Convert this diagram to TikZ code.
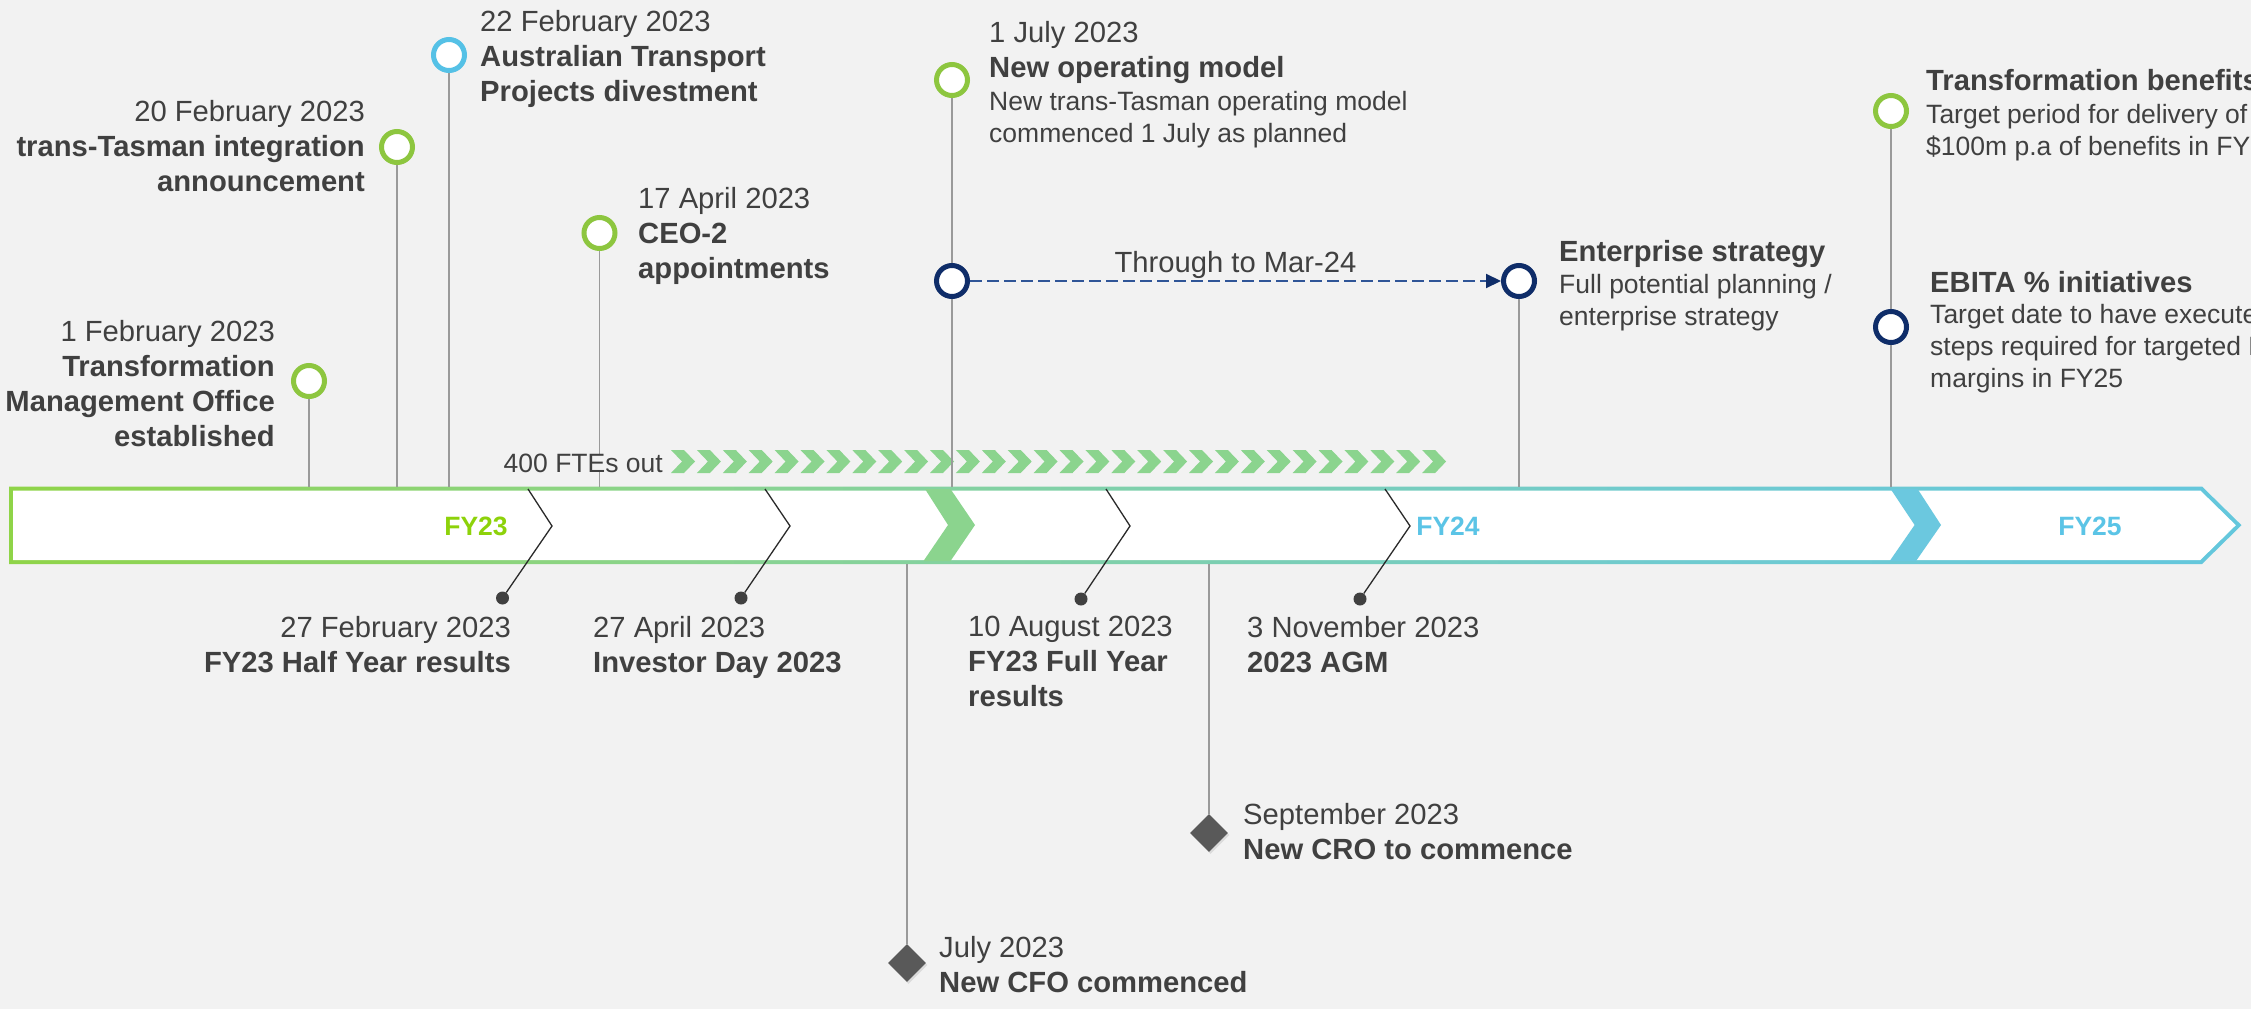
\documentclass[tikz,border=0pt]{standalone}
\usepackage{fontspec}
\setmainfont{Liberation Sans}
\usetikzlibrary{shapes.geometric,arrows.meta,shadows}
\definecolor{cBg}{HTML}{F2F2F2}
\definecolor{cText}{HTML}{404040}
\definecolor{cRing}{HTML}{8DC63F}
\definecolor{cSkyRing}{HTML}{55C1E6}
\definecolor{cNavy}{HTML}{0F2D69}
\definecolor{cDash}{HTML}{2F5597}
\definecolor{cLime}{HTML}{93D500}
\definecolor{cLimeB}{HTML}{90D43A}
\definecolor{cMint}{HTML}{8BD48E}
\definecolor{cTeal}{HTML}{70CBCF}
\definecolor{cSky}{HTML}{5BC4E6}
\definecolor{cBlueChev}{HTML}{6BC8DF}
\definecolor{cFY}{HTML}{8DD20A}
\definecolor{cLead}{HTML}{9A9A9A}
\definecolor{cChev}{HTML}{2A2A2A}
\definecolor{cGem}{HTML}{595959}
\pgfdeclarehorizontalshading{barshade}{100bp}{color(0bp)=(cLime); color(8bp)=(cLime); color(22bp)=(cLimeB); color(40bp)=(cMint); color(62bp)=(cTeal); color(84bp)=(cSky); color(100bp)=(cSky)}
\newcommand\fmain{\fontsize{29.2}{34.8}\selectfont}
\newcommand\fdesc{\fontsize{26.5}{32}\selectfont}
\newcommand\ffy{\fontsize{26.5}{30}\selectfont\bfseries}
\tikzset{
  lbl/.style={inner sep=0pt, text=cText, font=\fmain},
  desc/.style={inner sep=0pt, text=cText, font=\fdesc},
  fylbl/.style={inner sep=0pt, font=\ffy, anchor=base},
  ring/.style={circle, fill=white, line width=5pt, minimum size=31pt, inner sep=0pt,
    drop shadow={opacity=0.18, shadow xshift=1.5pt, shadow yshift=-2pt}},
  gring/.style={ring, draw=cRing},
  bring/.style={ring, draw=cSkyRing},
  nring/.style={ring, draw=cNavy},
  lead/.style={draw=cLead, line width=1.5pt},
  chevline/.style={draw=cChev, line width=1.3pt},
  pin/.style={circle, fill=cText, minimum size=13pt, inner sep=0pt},
  gem/.style={diamond, fill=cGem, minimum width=38pt, minimum height=38pt, inner sep=0pt,
    drop shadow={opacity=0.2, shadow xshift=1.5pt, shadow yshift=-2pt}},
  smallchev/.style={fill=cMint}
}
\begin{document}
\begin{tikzpicture}[x=1pt,y=-1pt]
\useasboundingbox (0,0) rectangle (2251,1009);
\fill[cBg] (0,0) rectangle (2251,1009);
\clip (0,0) rectangle (2251,1009);

% timeline bar
\shade[shading=barshade] (9,486.5) -- (2202,486.5) -- (2241.5,525.2) -- (2202,564) -- (9,564) -- cycle;
\fill[white] (13,490.5) -- (2200.3,490.5) -- (2235.8,525.2) -- (2200.3,560) -- (13,560) -- cycle;
\fill[cMint] (925,489) -- (950.5,489) -- (975,525) -- (950.5,561) -- (923.5,561) -- (948,525) -- cycle;
\fill[cBlueChev] (1890.6,489) -- (1917.6,489) -- (1941,525) -- (1916,561) -- (1889.7,561) -- (1914.6,525) -- cycle;

\node[fylbl, text=cFY] (fy23) at (476,535) {FY23};
\node[fylbl, text=cSky] (fy24) at (1448,535) {FY24};
\node[fylbl, text=cSky] (fy25) at (2090,535) {FY25};

% small chevrons (400 FTEs out)
\foreach \i in {0,...,29}
  \fill[smallchev] ({671+25.9*\i},450) -- ++(13,0) -- ++(11,11.5) -- ++(-11,11.5) -- ++(-13,0) -- ++(11,-11.5) -- cycle;

% bar attach points
\coordinate (b1feb) at (309,487);
\coordinate (b20feb) at (397,487);
\coordinate (b22feb) at (449,487);
\coordinate (b17apr) at (599.5,487);
\coordinate (b1jul) at (952,487);
\coordinate (bent) at (1519,487);
\coordinate (btrans) at (1891,487);
\coordinate (bcfo) at (907,564);
\coordinate (bcro) at (1209,564);
\coordinate (k1) at (528,489);  \coordinate (q1) at (552,526);
\coordinate (k2) at (765,489);  \coordinate (q2) at (790,526);
\coordinate (k3) at (1106,489); \coordinate (q3) at (1130,526);
\coordinate (k4) at (1385,489); \coordinate (q4) at (1410,526);

% milestone rings
\node[gring] (c1feb) at (309,381) {};
\node[gring] (c20feb) at (397,147) {};
\node[bring] (c22feb) at (449,55) {};
\node[gring] (c17apr) at (599.5,233) {};
\node[gring] (c1jul) at (952,80) {};
\node[nring] (cnavy) at (952,281) {};
\node[nring] (cent) at (1519,281) {};
\node[gring] (ctrans) at (1891,111) {};
\node[nring] (cebita) at (1891,327) {};

% bottom markers
\node[pin] (p1) at (502.5,598) {};
\node[pin] (p2) at (741,598) {};
\node[pin] (p3) at (1081,599) {};
\node[pin] (p4) at (1360,599) {};
\node[gem] (dcro) at (1209,833) {};
\node[gem] (dcfo) at (907,963) {};

% leader lines
\draw[lead] (c1feb) -- (b1feb);
\draw[lead] (c20feb) -- (b20feb);
\draw[lead] (c22feb) -- (b22feb);
\draw[lead] (c17apr) -- (b17apr);
\draw[lead] (c1jul) -- (cnavy);
\draw[lead] (cnavy) -- (b1jul);
\draw[lead] (cent) -- (bent);
\draw[lead] (ctrans) -- (cebita);
\draw[lead] (cebita) -- (btrans);
\draw[lead] (bcfo) -- (dcfo);
\draw[lead] (bcro) -- (dcro);
\draw[chevline] (k1) -- (q1) -- (p1);
\draw[chevline] (k2) -- (q2) -- (p2);
\draw[chevline] (k3) -- (q3) -- (p3);
\draw[chevline] (k4) -- (q4) -- (p4);

% dashed arrow
\draw[cDash, line width=2pt, dash pattern=on 12pt off 5pt, -{Triangle[length=15pt,width=14pt,fill=cNavy,color=cNavy]}]
  (cnavy) -- (cent) node[midway, anchor=base, yshift=9pt, lbl] (lthrough) {Through to Mar-24};

% labels above (anchor = baseline of last line)
\node[desc, anchor=base east, fill=cBg, inner xsep=2pt] (tfte) at (665,472) {400 FTEs out};
\node[lbl, anchor=base west, align=left] (t22feb) at (480,101) {22 February 2023\\\textbf{Australian Transport}\\\textbf{Projects divestment}};
\node[lbl, anchor=base east, align=right] (t20feb) at (365,191) {20 February 2023\\\textbf{trans-Tasman integration}\\\textbf{announcement}};
\node[lbl, anchor=base west, align=left] (t17apr) at (638,278) {17 April 2023\\\textbf{CEO-2}\\\textbf{appointments}};
\node[lbl, anchor=base east, align=right] (t1feb) at (275,446) {1 February 2023\\\textbf{Transformation}\\\textbf{Management Office}\\\textbf{established}};
\node[lbl, anchor=base west, align=left] (t1jul) at (989,77) {1 July 2023\\\textbf{New operating model}};
\node[desc, anchor=base west, align=left] (d1jul) at (989,142) {New trans-Tasman operating model\\commenced 1 July as planned};
\node[lbl, anchor=base west, align=left] (tent) at (1559,261) {\textbf{Enterprise strategy}};
\node[desc, anchor=base west, align=left] (dent) at (1559,325) {Full potential planning /\\enterprise strategy};
\node[lbl, anchor=base west, align=left] (ttrans) at (1926,90) {\textbf{Transformation benefits}};
\node[desc, anchor=base west, align=left] (dtrans) at (1926,155) {Target period for delivery of\\\$100m p.a of benefits in FY25};
\node[lbl, anchor=base west, align=left] (tebita) at (1930,292) {\textbf{EBITA \% initiatives}};
\node[desc, anchor=base west, align=left] (debita) at (1930,387) {Target date to have executed\\steps required for targeted EBITA\\margins in FY25};

% labels below
\node[lbl, anchor=base east, align=right] (t27feb) at (511,672) {27 February 2023\\\textbf{FY23 Half Year results}};
\node[lbl, anchor=base west, align=left] (t27apr) at (593,672) {27 April 2023\\\textbf{Investor Day 2023}};
\node[lbl, anchor=base west, align=left] (t10aug) at (968,706) {10 August 2023\\\textbf{FY23 Full Year}\\\textbf{results}};
\node[lbl, anchor=base west, align=left] (t3nov) at (1247,672) {3 November 2023\\\textbf{2023 AGM}};
\node[lbl, anchor=base west, align=left] (tsep) at (1243,859) {September 2023\\\textbf{New CRO to commence}};
\node[lbl, anchor=base west, align=left] (tjul) at (939,992) {July 2023\\\textbf{New CFO commenced}};
\end{tikzpicture}
\end{document}
